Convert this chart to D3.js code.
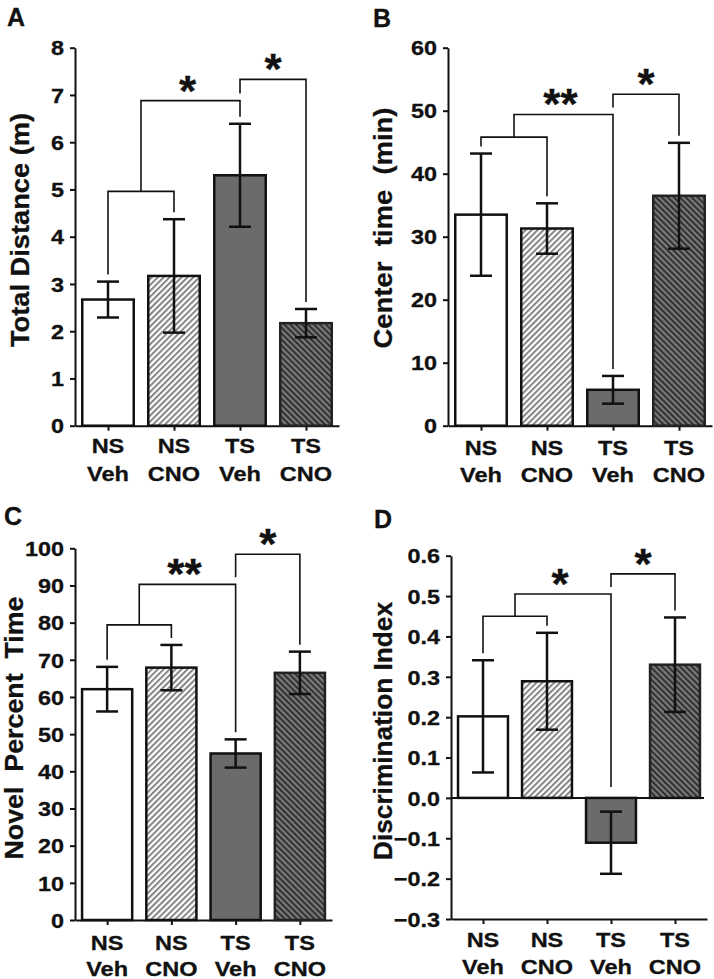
<!DOCTYPE html>
<html>
<head>
<meta charset="utf-8">
<script src="https://cdn.jsdelivr.net/npm/d3@7.9.0/dist/d3.min.js"></script>
<style>
  html, body { margin: 0; padding: 0; background: #fff; }
  svg text { font-family: "Liberation Sans", Arial, sans-serif; font-weight: bold; fill: #111; stroke: #111; stroke-width: 0.3; }
</style>
</head>
<body>
<svg id="fig" width="714" height="979"></svg>
<script>
// Groups (two-line category labels)
const groups = ["NS Veh", "NS CNO", "TS Veh", "TS CNO"];
const groupTop = ["NS", "NS", "TS", "TS"];
const groupBottom = ["Veh", "CNO", "Veh", "CNO"];

// A - total distance (m)
const distanceMean = [2.67, 3.17, 5.30, 2.17];
const distanceErr = [0.38, 1.20, 1.09, 0.30];
const distanceTicks = [0, 1, 2, 3, 4, 5, 6, 7, 8];
const distanceBrackets = [4.96, 6.88, 7.33];
const distanceStars = ["*", "*"];

// B - center time (min)
const centerMean = [33.5, 31.3, 5.7, 36.5];
const centerErr = [9.7, 4.0, 2.2, 8.4];
const centerTicks = [0, 10, 20, 30, 40, 50, 60];
const centerBrackets = [45.8, 49.4, 52.6];
const centerStars = ["**", "*"];

// C - novel percent time
const novelMean = [62.1, 67.9, 44.8, 66.5];
const novelErr = [6.0, 6.1, 3.8, 5.7];
const novelTicks = [0, 10, 20, 30, 40, 50, 60, 70, 80, 90, 100];
const novelBrackets = [79.4, 90.3, 98.4];
const novelStars = ["**", "*"];

// D - discrimination index
const discMean = [0.202, 0.289, -0.111, 0.330];
const discErr = [0.139, 0.120, 0.077, 0.117];
const discTicks = [-0.3, -0.2, -0.1, 0.0, 0.1, 0.2, 0.3, 0.4, 0.5, 0.6];
const discBrackets = [0.45, 0.505, 0.555];
const discStars = ["*", "*"];

const svg = d3.select("#fig");

// widen text glyphs a bit (the original lettering is broader than Arial)
function stretch(sel, k) {
  sel.each(function () {
    const len = this.getComputedTextLength();
    d3.select(this).attr("textLength", len * k).attr("lengthAdjust", "spacingAndGlyphs");
  });
}

// Hatch patterns
const defs = svg.append("defs");
function hatch(id, angle, bg, fg, w) {
  const s = 4.2;
  const p = defs.append("pattern")
    .attr("id", id)
    .attr("patternUnits", "userSpaceOnUse")
    .attr("width", s).attr("height", s)
    .attr("patternTransform", `rotate(${angle})`);
  p.append("rect").attr("width", s).attr("height", s).attr("fill", bg);
  p.append("line").attr("x1", 1).attr("x2", 1).attr("y1", 0).attr("y2", s)
    .attr("stroke", fg).attr("stroke-width", w);
}
hatch("hatchLight", 45, "#ffffff", "#858585", 2);
hatch("hatchDark", -45, "#7a7a7a", "#303030", 2);

const barFill = ["#ffffff", "url(#hatchLight)", "#6b6b6b", "url(#hatchDark)"];
const barStroke = ["#111", "#111", "#111", "#222"];

function drawPanel(p) {
  const g = svg.append("g");
  const x = d3.scalePoint().domain(groups).range(p.xRange).padding(0.5);
  const y = d3.scaleLinear().domain(p.domain).range(p.yRange);
  const bw = x.step() * 0.78;

  // panel letter
  g.append("text").attr("x", p.letterPos[0]).attr("y", p.letterPos[1])
    .attr("font-size", 25).text(p.letter);

  // y axis
  const ya = g.append("g")
    .attr("transform", `translate(${p.xRange[0]},0)`)
    .call(d3.axisLeft(y).tickValues(p.ticks).tickSize(5).tickSizeOuter(0)
      .tickPadding(6).tickFormat(p.fmt));
  ya.select(".domain").attr("stroke", "#111").attr("stroke-width", 2);
  ya.selectAll(".tick line").attr("stroke", "#111").attr("stroke-width", 2);
  ya.selectAll(".tick text").attr("font-size", 20).attr("fill", "#111")
    .attr("font-family", null).attr("dy", "0.36em")
    .call(stretch, 1.17);

  // y title, stretched to the length it has in the figure
  g.append("text")
    .attr("transform", `translate(${p.titlePos[0]},${p.titlePos[1]}) rotate(-90)`)
    .attr("text-anchor", "middle")
    .attr("font-size", 25)
    .attr("textLength", p.titleLen)
    .attr("lengthAdjust", "spacingAndGlyphs")
    .style("white-space", "pre")
    .text(p.title);

  // bottom axis
  const yb = y(p.domain[0]);
  const xa = g.append("g")
    .attr("transform", `translate(0,${yb})`)
    .call(d3.axisBottom(x).tickSize(5).tickSizeOuter(0).tickFormat(""));
  xa.select(".domain").attr("stroke", "#111").attr("stroke-width", 2);
  xa.selectAll(".tick line").attr("stroke", "#111").attr("stroke-width", 2);

  // category labels
  const lab = g.selectAll(".cat").data(groups).join("text")
    .attr("class", "cat")
    .attr("text-anchor", "middle")
    .attr("font-size", 21);
  lab.append("tspan").attr("x", d => x(d)).attr("y", yb + p.labelDy[0])
    .text((d, i) => groupTop[i]);
  lab.append("tspan").attr("x", d => x(d)).attr("y", yb + p.labelDy[1])
    .text((d, i) => groupBottom[i]);
  lab.selectAll("tspan").call(stretch, 1.12);

  // bars
  g.selectAll(".bar").data(groups).join("rect")
    .attr("class", "bar")
    .attr("x", d => x(d) - bw / 2)
    .attr("y", (d, i) => y(Math.max(0, p.mean[i])))
    .attr("width", bw)
    .attr("height", (d, i) => Math.abs(y(p.mean[i]) - y(0)))
    .attr("fill", (d, i) => barFill[i])
    .attr("stroke", (d, i) => barStroke[i])
    .attr("stroke-width", 2.5);

  // zero line (for panels with negative values)
  if (p.domain[0] < 0) {
    g.append("line")
      .attr("x1", p.xRange[0]).attr("x2", p.xRange[1] - 3)
      .attr("y1", y(0)).attr("y2", y(0))
      .attr("stroke", "#111").attr("stroke-width", 2);
  }

  // error bars
  const cap = 11;
  groups.forEach((d, i) => {
    const cx = x(d), hi = y(p.mean[i] + p.err[i]), lo = y(p.mean[i] - p.err[i]);
    const eb = g.append("g").attr("stroke", "#111").attr("stroke-width", 2.5).attr("fill", "none");
    eb.append("line").attr("x1", cx).attr("x2", cx).attr("y1", hi).attr("y2", lo);
    eb.append("line").attr("x1", cx - cap).attr("x2", cx + cap).attr("y1", hi).attr("y2", hi);
    eb.append("line").attr("x1", cx - cap).attr("x2", cx + cap).attr("y1", lo).attr("y2", lo);
  });

  // significance brackets
  const gap = 7;
  const legEnd = i => p.mean[i] + p.err[i] > 0
    ? y(p.mean[i] + p.err[i]) - gap
    : y(0) - 11;
  const [l1, l2, l3] = p.brackets.map(v => y(v));
  const xa0 = x(groups[0]), xa1 = x(groups[1]), xa2 = x(groups[2]), xa3 = x(groups[3]);
  const mid = (xa0 + xa1) / 2;
  const br = g.append("g").attr("stroke", "#111").attr("stroke-width", 1.6).attr("fill", "none");
  br.append("path").attr("d", `M${xa0},${legEnd(0)}V${l1}H${xa1}V${legEnd(1)}`);
  br.append("path").attr("d", `M${mid},${l1}V${l2}H${xa2}V${legEnd(2)}`);
  br.append("path").attr("d", `M${xa2},${l2 - gap}V${l3}H${xa3}V${legEnd(3)}`);

  const s1 = g.append("text").attr("x", (mid + xa2) / 2 - 3).attr("y", l2 + 4)
    .attr("text-anchor", "middle").attr("font-size", 42).text(p.stars[0]);
  const s2 = g.append("text").attr("x", (xa2 + xa3) / 2).attr("y", l3 + 4)
    .attr("text-anchor", "middle").attr("font-size", 42).text(p.stars[1]);
  stretch(s1, 1.05);
  stretch(s2, 1.05);
}

drawPanel({
  letter: "A", letterPos: [7, 26],
  title: "Total Distance (m)", titlePos: [29, 230], titleLen: 234,
  xRange: [75, 339], yRange: [425.7, 47.7], domain: [0, 8],
  ticks: distanceTicks, fmt: d3.format("d"), labelDy: [27, 55],
  mean: distanceMean, err: distanceErr, brackets: distanceBrackets, stars: distanceStars
});

drawPanel({
  letter: "B", letterPos: [373, 27],
  title: "Center  time  (min)", titlePos: [392, 228], titleLen: 241,
  xRange: [448, 712], yRange: [425.7, 47.7], domain: [0, 60],
  ticks: centerTicks, fmt: d3.format("d"), labelDy: [29, 56],
  mean: centerMean, err: centerErr, brackets: centerBrackets, stars: centerStars
});

drawPanel({
  letter: "C", letterPos: [4, 525],
  title: "Novel  Percent  Time", titlePos: [23, 728], titleLen: 263,
  xRange: [75, 332], yRange: [920, 548.3], domain: [0, 100],
  ticks: novelTicks, fmt: d3.format("d"), labelDy: [30, 56],
  mean: novelMean, err: novelErr, brackets: novelBrackets, stars: novelStars
});

drawPanel({
  letter: "D", letterPos: [374, 528],
  title: "Discrimination Index", titlePos: [392, 731], titleLen: 258,
  xRange: [451, 707], yRange: [919, 555.7], domain: [-0.3, 0.6],
  ticks: discTicks, fmt: d3.format(".1f"), labelDy: [28, 55],
  mean: discMean, err: discErr, brackets: discBrackets, stars: discStars
});
</script>
</body>
</html>
